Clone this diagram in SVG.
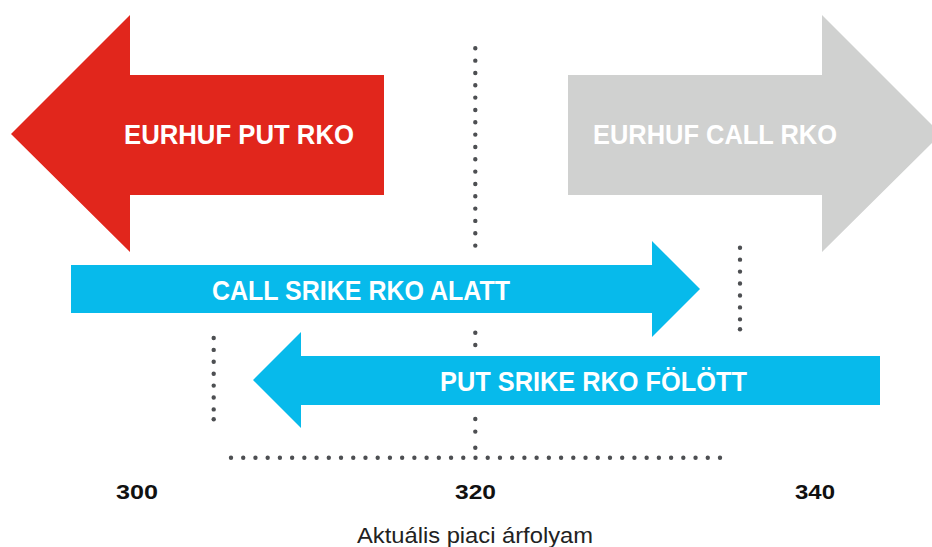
<svg xmlns="http://www.w3.org/2000/svg" width="932" height="547" viewBox="0 0 932 547">
<style>
.dots{fill:none;stroke:#4d4f52;stroke-width:4.4;stroke-linecap:round}
.lbl{font-family:"Liberation Sans",Arial,sans-serif;font-weight:bold;font-size:28px;fill:#fff}
.num{font-family:"Liberation Sans",Arial,sans-serif;font-weight:bold;font-size:20px;fill:#111}
.axis{font-family:"Liberation Sans",Arial,sans-serif;font-size:22px;fill:#222}
</style>
<rect width="932" height="547" fill="#fff"/>
<g id="guides">
<path class="dots" stroke-dasharray="0 12.33" d="M475.3 48.3V245.8"/>
<path class="dots" stroke-dasharray="0 12.3" d="M475.3 332.7V345.1"/>
<path class="dots" stroke-dasharray="0 12.6" d="M475.3 419V431.7"/>
<path class="dots" stroke-dasharray="0 16" d="M475.3 447.7V447.8"/>
<path class="dots" stroke-dasharray="0 11.94" d="M740 247.7V319.5"/>
<path class="dots" stroke-dasharray="0 1" d="M740 329.3V329.4"/>
<path class="dots" stroke-dasharray="0 11.9" d="M213.7 338V409.5"/>
<path class="dots" stroke-dasharray="0 1" d="M213.7 419.3V419.4"/>
<path class="dots" stroke-dasharray="0 12.225" d="M231 457.7H720.1"/>
</g>
<g id="put-rko">
<polygon fill="#e1261c" points="11,134 130,15 130,75 384,75 384,195 130,195 130,252"/>
<text class="lbl" x="124" y="144" textLength="230" lengthAdjust="spacingAndGlyphs">EURHUF PUT RKO</text>
</g>
<g id="call-rko">
<polygon fill="#d0d1d0" points="568,75 822,75 822,15 941,134 822,252 822,195 568,195"/>
<text class="lbl" x="593" y="144" textLength="244" lengthAdjust="spacingAndGlyphs" fill="#f3f3f3">EURHUF CALL RKO</text>
</g>
<g id="call-strike">
<polygon fill="#07baeb" points="71,265 652,265 652,241 700,289 652,337 652,313 71,313"/>
<text class="lbl" x="212" y="300" textLength="298" lengthAdjust="spacingAndGlyphs">CALL SRIKE RKO ALATT</text>
</g>
<g id="put-strike">
<polygon fill="#07baeb" points="253,380 301,332 301,356 880,356 880,405 301,405 301,428"/>
<text class="lbl" x="440" y="391" textLength="307" lengthAdjust="spacingAndGlyphs">PUT SRIKE RKO FÖLÖTT</text>
</g>
<g id="axis-labels">
<text class="num" x="116" y="499" textLength="42" lengthAdjust="spacingAndGlyphs">300</text>
<text class="num" x="455" y="499" textLength="41" lengthAdjust="spacingAndGlyphs">320</text>
<text class="num" x="795" y="499" textLength="40" lengthAdjust="spacingAndGlyphs">340</text>
<text class="axis" x="357" y="543" textLength="236" lengthAdjust="spacingAndGlyphs">Aktuális piaci árfolyam</text>
</g>
</svg>
